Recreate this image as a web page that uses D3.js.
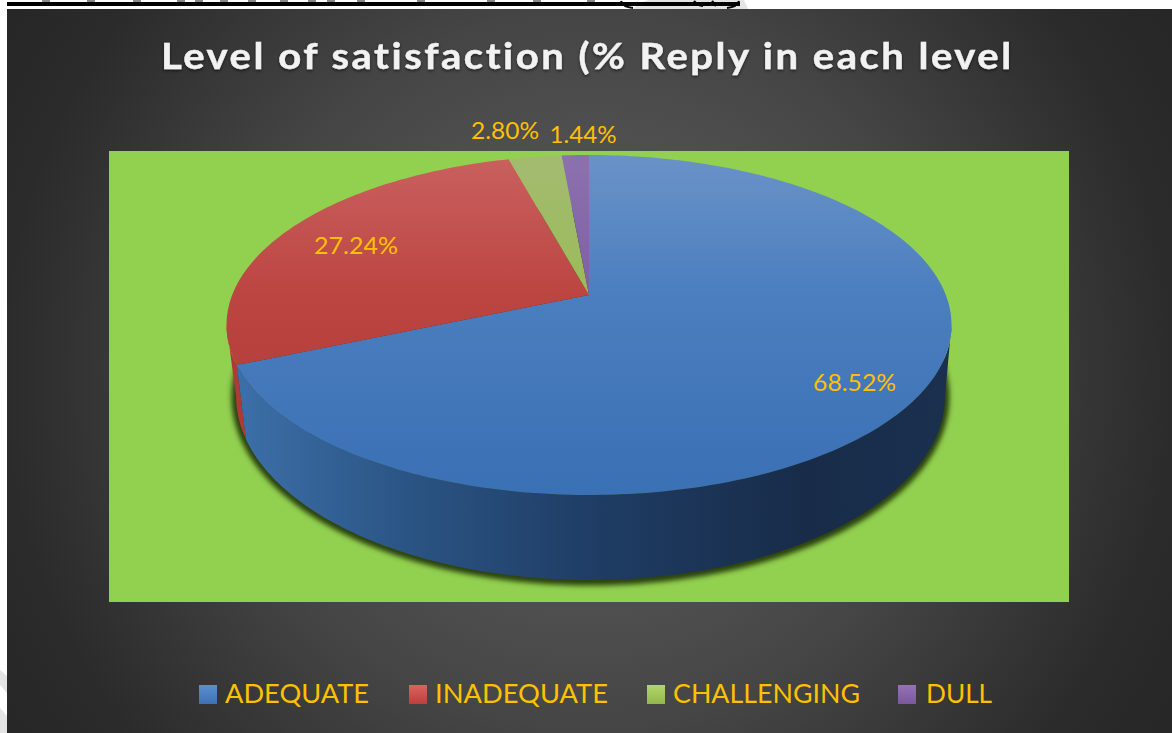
<!DOCTYPE html>
<html><head><meta charset="utf-8">
<script src="https://cdn.jsdelivr.net/npm/d3@7"></script>
<style>html,body{margin:0;padding:0;background:#fff;overflow:hidden}svg{display:block}</style>
</head><body><div id="c"></div>
<script>
const categories = ["ADEQUATE","INADEQUATE","CHALLENGING","DULL"];
const values = [68.52,27.24,2.80,1.44];
const labels = ["68.52%","27.24%","2.80%","1.44%"];
const titleText = "Level of satisfaction (% Reply in each level";

const topColors = [["#6a92c7","#4a7ebf","#3a70b4"],["#c9615f","#bc4441","#ad3a38"],["#a3bb70","#9bbb59","#88a63e"],["#8c72ad","#7f5fa3","#6e4f94"]];
const wallColors = [["#3c6fa8","#2b5585","#1f3d65","#182c49","#1a304e"]];
const legendColors = [["#5c8fd0","#3c72b4"],["#d86462","#bd3f3c"],["#b2d66e","#93b84a"],["#9672b8","#7a579f"]];

const W=1172,H=733;
const svg=d3.select("#c").append("svg").attr("width",W).attr("height",H);
const defs=svg.append("defs");

const bg=defs.append("radialGradient").attr("id","bg").attr("gradientUnits","userSpaceOnUse")
  .attr("cx",589).attr("cy",371).attr("r",690);
[[0,"#575757"],[.36,"#4e4e4e"],[.52,"#454545"],[.85,"#2b2b2b"],[1,"#262626"]].forEach(s=>bg.append("stop").attr("offset",s[0]).attr("stop-color",s[1]));

svg.append("rect").attr("width",W).attr("height",H).attr("fill","#fff");
const wm=[[[633,9],[640,3],[648,0],[744,0],[748,9]],[[0,670],[7,676],[7,693],[0,685]],[[0,708],[7,716],[7,733],[0,733]]];
svg.selectAll(".wm").data(wm).join("path").attr("d",d=>d3.line()(d)+"Z").attr("fill","#e4e4e4");
const frag=[42,87,133,177,195,220,248,280,308,327,357,417,487,533,587];
svg.append("g").selectAll("rect").data(frag).join("rect").attr("x",d=>d).attr("y",0).attr("width",8).attr("height",2).attr("fill","#8a8a8a");
svg.append("rect").attr("x",7).attr("y",2).attr("width",733).attr("height",4).attr("fill","#000");
svg.append("path").attr("d","M621,1Q623,7 633,8M739,1Q737,7 727,8M694,1Q697,5 703,6M712,1L716,6").attr("fill","none").attr("stroke","#000").attr("stroke-width",2.2);

svg.append("rect").attr("x",7).attr("y",9).attr("width",W-7).attr("height",H-9).attr("fill","url(#bg)");

const px=109,py=151,pw=960,ph=451;
svg.append("clipPath").attr("id","plot").append("rect").attr("x",px).attr("y",py).attr("width",pw).attr("height",ph);
svg.append("rect").attr("x",px).attr("y",py).attr("width",pw).attr("height",ph).attr("fill","#92d050");

const cx=589,cy=295,k=.1765,a=164.7,b=356.8;
const proj=(th,r=1)=>{const u=r*Math.sin(th),v=r*Math.cos(th),d=1+k*v;return [cx+b*u/d,cy-a*v/d];};
const low=(p)=>[590+(p[0]-588.5)*354/362,396+(p[1]-325)*184/170];
const line=d3.line();
const arcPts=(s,e,f=proj)=>{const n=Math.max(2,Math.ceil(Math.abs(e-s)/.02));return d3.range(n+1).map(i=>f(s+(e-s)*i/n));};

const pie=d3.pie().sort(null).value(d=>d).startAngle(0).endAngle(2*Math.PI);
const arcs=pie(values);

defs.append("filter").attr("id","blur").attr("x","-10%").attr("y","-10%").attr("width","120%").attr("height","120%")
  .append("feGaussianBlur").attr("stdDeviation",2.8);
const lowPts=arcPts(0,2*Math.PI,t=>low(proj(t)));
svg.append("g").attr("clip-path","url(#plot)").append("path")
  .attr("d",line(lowPts)+"Z").attr("fill","#2c4210").attr("stroke","#2c4210").attr("stroke-width",9)
  .attr("transform","translate(0,1)").attr("filter","url(#blur)");

const rightTh=Math.acos(-k), leftTh=2*Math.PI-rightTh;
function wallGrad(id,cols){
  const g=defs.append("linearGradient").attr("id",id).attr("gradientUnits","userSpaceOnUse")
    .attr("x1",240).attr("x2",945).attr("y1",0).attr("y2",0);
  const offs=[0,.23,.5,.8,1];
  cols.forEach((c,i)=>g.append("stop").attr("offset",offs[i]).attr("stop-color",c));
}
wallColors.forEach((c,i)=>wallGrad("wall"+i,c));
const wallPath=(s,e)=>{
  const t=arcPts(s,e),bt=arcPts(e,s,x=>low(proj(x)));
  return line(t.concat(bt))+"Z";
};
const seam=arcs[0].endAngle;
svg.append("path").attr("d",wallPath(seam,leftTh)).attr("fill","#ad3a38");
svg.append("path").attr("d",wallPath(rightTh,seam)).attr("fill","url(#wall0)");

topColors.forEach((c,i)=>{
  const g=defs.append("linearGradient").attr("id","top"+i).attr("gradientUnits","userSpaceOnUse")
    .attr("x1",0).attr("x2",0).attr("y1",155).attr("y2",495);
  [0,.42,1].forEach((o,j)=>g.append("stop").attr("offset",o).attr("stop-color",c[j]));
});
svg.append("g").selectAll("path").data(arcs).join("path")
  .attr("d",d=>line([[cx,cy]].concat(arcPts(d.startAngle,d.endAngle)))+"Z")
  .attr("fill",(d,i)=>`url(#top${i})`);

const labelR=[.82,.76,1.2,1.2];
const labelNudge=[[0,7],[-2,2],[-21,-3],[10,3]];
const labelWidth=[83,84,68,67];
svg.append("g").selectAll("text").data(arcs).join("text")
  .attr("x",(d,i)=>proj((d.startAngle+d.endAngle)/2,labelR[i])[0]+labelNudge[i][0]-labelWidth[i]/2)
  .attr("y",(d,i)=>proj((d.startAngle+d.endAngle)/2,labelR[i])[1]+labelNudge[i][1]+8)
  .attr("font-family","Lato").attr("font-size",23.5).attr("fill","#ffc000")
  .attr("textLength",(d,i)=>labelWidth[i]).attr("lengthAdjust","spacingAndGlyphs")
  .text((d,i)=>labels[i]);

defs.append("filter").attr("id","ts").attr("x","-5%").attr("y","-30%").attr("width","110%").attr("height","160%")
  .append("feDropShadow").attr("dx",0).attr("dy",1.5).attr("stdDeviation",1.5).attr("flood-color","#000").attr("flood-opacity",.6);
svg.append("text").attr("x",161).attr("y",69).attr("font-family","Lato").attr("font-weight",700).attr("font-size",37)
  .attr("letter-spacing",2.3).attr("fill","#f2f2f2").attr("stroke","#f2f2f2").attr("stroke-width",.4)
  .attr("filter","url(#ts)").text(titleText)
  .each(function(){
    // fit the tracked title to its measured width through a horizontal scale
    const w=this.getComputedTextLength();
    const s=853/w;
    d3.select(this).attr("x",null).attr("y",null).attr("transform",`translate(161,69) scale(${s},1)`);
  });

const legX=[199,409,647,898], legTextX=[225,435,673,926], legW=[144,173,187,66];
legendColors.forEach((c,i)=>{
  const g=defs.append("linearGradient").attr("id","leg"+i).attr("x1",0).attr("x2",0).attr("y1",0).attr("y2",1);
  c.forEach((col,j)=>g.append("stop").attr("offset",j).attr("stop-color",col));
});
const leg=svg.append("g").selectAll("g").data(categories).join("g");
leg.append("rect").attr("x",(d,i)=>legX[i]).attr("y",685).attr("width",18).attr("height",19).attr("fill",(d,i)=>`url(#leg${i})`);
leg.append("text").attr("x",(d,i)=>legTextX[i]).attr("y",703).attr("font-family","Lato").attr("font-size",26.5).attr("fill","#ffc000")
  .attr("textLength",(d,i)=>legW[i]).attr("lengthAdjust","spacingAndGlyphs").text(d=>d);
</script></body></html>
